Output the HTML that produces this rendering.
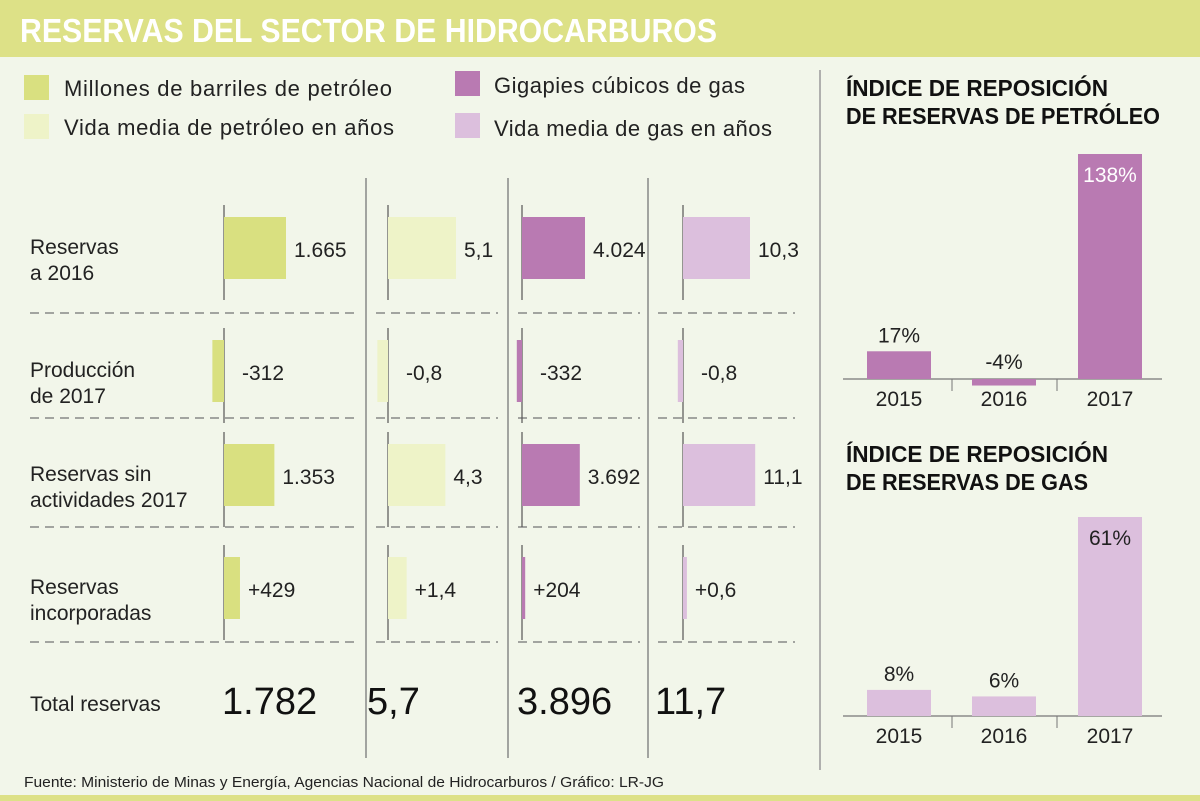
<!DOCTYPE html>
<html><head><meta charset="utf-8"><style>
body{margin:0;width:1200px;height:801px;background:#f2f6ea;font-family:"Liberation Sans",sans-serif;overflow:hidden;position:relative}
</style></head><body>
<svg width="1200" height="801" style="position:absolute;left:0;top:0" font-family="Liberation Sans, sans-serif">
<rect x="0" y="0" width="1200" height="57" fill="#dde187"/>
<text x="20" y="42" font-size="33" font-weight="bold" fill="#fff" textLength="697" lengthAdjust="spacingAndGlyphs">RESERVAS DEL SECTOR DE HIDROCARBUROS</text>
<rect x="0" y="795" width="1200" height="6" fill="#dde187"/>
<text x="24" y="787" font-size="15" fill="#222" textLength="640" lengthAdjust="spacingAndGlyphs">Fuente: Ministerio de Minas y Energía, Agencias Nacional de Hidrocarburos / Gráfico: LR-JG</text>
<g font-size="22" fill="#222">
<rect x="24" y="75" width="25" height="25" fill="#d9e080"/><text x="64" y="96" textLength="328">Millones de barriles de petróleo</text>
<rect x="24" y="114" width="25" height="25" fill="#eef3c8"/><text x="64" y="135" textLength="330">Vida media de petróleo en años</text>
<rect x="455" y="71" width="25" height="25" fill="#b97ab2"/><text x="494" y="93" textLength="251">Gigapies cúbicos de gas</text>
<rect x="455" y="113" width="25" height="25" fill="#dcbfdd"/><text x="494" y="136" textLength="278">Vida media de gas en años</text>
</g>
<g id="main"></g>
<line x1="820" y1="70" x2="820" y2="770" stroke="#999" stroke-width="1.5"/>
<g font-size="23" font-weight="bold" fill="#111"><text x="846" y="96" textLength="262" lengthAdjust="spacingAndGlyphs">ÍNDICE DE REPOSICIÓN</text><text x="846" y="124" textLength="314" lengthAdjust="spacingAndGlyphs">DE RESERVAS DE PETRÓLEO</text></g>
<g font-size="23" font-weight="bold" fill="#111"><text x="846" y="462" textLength="262" lengthAdjust="spacingAndGlyphs">ÍNDICE DE REPOSICIÓN</text><text x="846" y="490" textLength="242" lengthAdjust="spacingAndGlyphs">DE RESERVAS DE GAS</text></g>
<g id="oilChart"></g>
<g id="gasChart"></g>
</svg>
<script>
const rowLabels=[["Reservas","a 2016"],["Producción","de 2017"],["Reservas sin","actividades 2017"],["Reservas","incorporadas"]];
const oilReserves=[1665,-312,1353,429];
const oilLife=[5.1,-0.8,4.3,1.4];
const gasReserves=[4024,-332,3692,204];
const gasLife=[10.3,-0.8,11.1,0.6];
const oilReservesLabels=["1.665","-312","1.353","+429"];
const oilLifeLabels=["5,1","-0,8","4,3","+1,4"];
const gasReservesLabels=["4.024","-332","3.692","+204"];
const gasLifeLabels=["10,3","-0,8","11,1","+0,6"];
const totals=["1.782","5,7","3.896","11,7"];
const years=["2015","2016","2017"];
const oilIndex=[17,-4,138];
const gasIndex=[8,6,61];
const oilIndexLabels=["17%","-4%","138%"];
const gasIndexLabels=["8%","6%","61%"];

const NS="http://www.w3.org/2000/svg";
function mk(p,t,a,txt){const e=document.createElementNS(NS,t);for(const k in a)e.setAttribute(k,a[k]);if(txt!==undefined)e.textContent=txt;p.appendChild(e);return e;}
const main=document.getElementById('main');
const rowTop=[217,340,444,557], rowH=62;
const cols=[
 {axis:224,scale:62/1665,data:oilReserves,labels:oilReservesLabels,color:"#d9e080",name:"oil-reserves"},
 {axis:388,scale:68/5.1,data:oilLife,labels:oilLifeLabels,color:"#eef3c8",name:"oil-life"},
 {axis:522,scale:63/4024,data:gasReserves,labels:gasReservesLabels,color:"#b97ab2",name:"gas-reserves"},
 {axis:683,scale:67/10.3,data:gasLife,labels:gasLifeLabels,color:"#dcbfdd",name:"gas-life"}];
rowLabels.forEach((l,i)=>{
 const t=mk(main,'text',{x:30,y:rowTop[i]+37,'font-size':21,fill:'#222'});
 
 
 mk(t,'tspan',{x:30,dy:0},l[0]);mk(t,'tspan',{x:30,dy:26},l[1]);
});
[366,508,648].forEach(x=>{const e=mk(main,'line',{x1:x,y1:178,x2:x,y2:758,stroke:'#888','stroke-width':1.5});
 
 });
const segs=[[30,356],[376,498],[518,640],[658,795]];
[313,418,527,642].forEach(y=>segs.forEach(s=>{const e=mk(main,'line',{x1:s[0],y1:y,x2:s[1],y2:y,stroke:'#888','stroke-width':1.5,'stroke-dasharray':'9 6'});
 
 }));
cols.forEach((c,ci)=>{
 c.data.forEach((v,i)=>{
  const y=rowTop[i];
  const ax=mk(main,'line',{x1:c.axis,y1:y-12,x2:c.axis,y2:y+rowH+21,stroke:'#555','stroke-width':1.2});
  
  
  const w=Math.abs(v)*c.scale;
  const x=v>=0?c.axis:c.axis-w;
  const b=mk(main,'rect',{x:x,y:y,width:w,height:rowH,fill:c.color});
  
  
  const lx=v>=0?c.axis+w+8:c.axis+18;
  const t=mk(main,'text',{x:lx,y:y+40,'font-size':21,fill:'#222'},c.labels[i]);
  
  
 });
});
const tl=mk(main,'text',{x:30,y:711,'font-size':21,fill:'#222'},"Total reservas");


[222,367,517,655].forEach((x,i)=>{const t=mk(main,'text',{x:x,y:714,'font-size':38,fill:'#111'},totals[i]);
 
 });

function idx(g,base,scale,data,labels,color,inside){
 const xs=[867,972,1078],bw=64;
 const bl=mk(g,'line',{x1:843,y1:base,x2:1162,y2:base,stroke:'#777','stroke-width':1.2});
 
 
 [952,1057].forEach(x=>{const e=mk(g,'line',{x1:x,y1:base,x2:x,y2:base+12,stroke:'#777'});
  
  });
 data.forEach((v,i)=>{
  const h=Math.abs(v)*scale;
  const b=mk(g,'rect',{x:xs[i],y:v>=0?base-h:base,width:bw,height:h,fill:color});
  
  
  const big=i===2;
  const ly=big?base-h+28:(v>=0?base-h-9:base-10);
  const t=mk(g,'text',{x:xs[i]+bw/2,y:ly,'font-size':21,'text-anchor':'middle',fill:big&&inside?'#fff':'#222'},labels[i]);
  
  
  const yl=mk(g,'text',{x:xs[i]+bw/2,y:base+27,'font-size':21,'text-anchor':'middle',fill:'#222'},years[i]);
  
  
 });
}
idx(document.getElementById('oilChart'),379,225/138,oilIndex,oilIndexLabels,"#b97ab2",true);
idx(document.getElementById('gasChart'),716,199/61,gasIndex,gasIndexLabels,"#dcbfdd",false);
</script>
</body></html>
